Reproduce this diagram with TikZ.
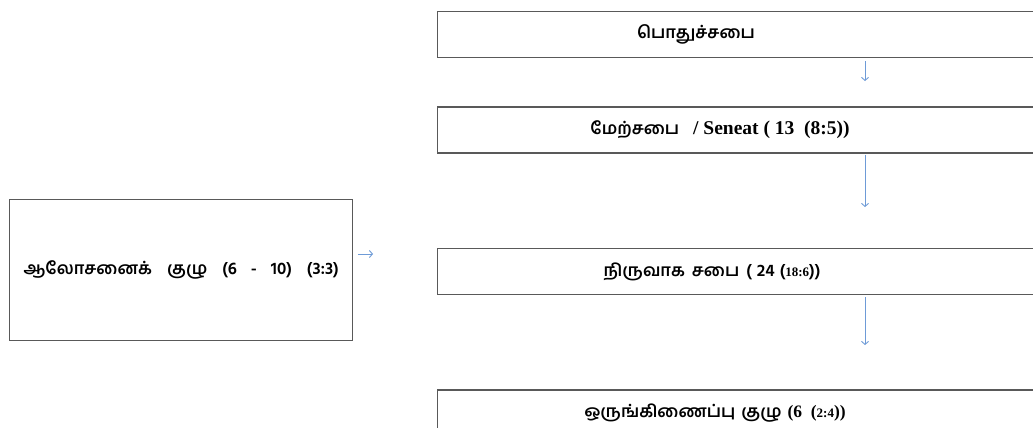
\documentclass[tikz,border=0pt]{standalone}
\usepackage{fontspec}
\setmainfont{Liberation Serif}
\newfontfamily\tamil[Script=Tamil]{Hind Madurai}
\definecolor{arrblue}{RGB}{110,155,215}
\usetikzlibrary{arrows.meta,positioning}

\begin{document}
\begin{tikzpicture}[x=1pt,y=1pt,
 box/.style={draw=black!65,line width=1.4pt,minimum width=700pt,minimum height=46pt,
 inner sep=0pt,anchor=north west},
 sidebox/.style={draw=black!65,line width=1.4pt,minimum width=343pt,minimum height=141pt,
 inner sep=0pt,anchor=north west,font=\tamil\bfseries\fontsize{17}{20}\selectfont},
 lbl/.style={font=\tamil\bfseries\fontsize{17}{20}\selectfont,inner sep=0pt},
 arr/.style={draw=arrblue,line width=0.9pt,-{Straight Barb[length=3pt,width=7pt]}}]
\clip (0,0) rectangle (1033,-428);
\fill[white] (0,0) rectangle (1033,-428);
\node[box] (gen) at (437,-11) {};
\node[box,below=48pt of gen] (sen) {};
\node[box,below=94pt of sen] (exe) {};
\node[box,below=94pt of exe] (coo) {};
\node[sidebox] (adv) at (9,-199)
 {ஆலோசனைக்\hspace{15pt}குழு\hspace{15pt}(6\hspace{14pt}-\hspace{14pt}10)\hspace{15pt}(3:3)};
% texts in the boxes
\node[lbl] (tgen) at ([xshift=259pt]gen.west) {பொதுச்சபை};
\node[lbl] (tsen) at ([xshift=283pt]sen.west)
 {மேற்சபை\hspace{14pt}{\rmfamily\fontsize{19.5}{22}\selectfont / Seneat ( 13\ \ (8:5))}};
\node[lbl] (texe) at ([xshift=275pt]exe.west)
 {நிருவாக\hspace{7pt}சபை\hspace{7pt}(\hspace{5pt}24\hspace{5pt}({\rmfamily\fontsize{13}{15}\selectfont 18:6}))};
\node[lbl] (tcoo) at ([xshift=278pt]coo.west)
 {ஒருங்கிணைப்பு\hspace{6pt}குழு\hspace{6pt}{\rmfamily\fontsize{17.5}{20}\selectfont(6\ \ ({\fontsize{13}{15}\selectfont 2:4}))}};
% arrows
\coordinate (e1) at (865,-81);
\coordinate (e2) at (865,-207);
\coordinate (e3) at (865,-345);
\coordinate (e4) at (373,-254);
\draw[arr,shorten <=3pt] (gen.south -| e1) -- (e1);
\draw[arr,shorten <=1pt] (sen.south -| e2) -- (e2);
\draw[arr,shorten <=2pt] (exe.south -| e3) -- (e3);
\draw[arr,shorten <=5pt] (adv.east |- e4) -- (e4);
\end{tikzpicture}
\end{document}
